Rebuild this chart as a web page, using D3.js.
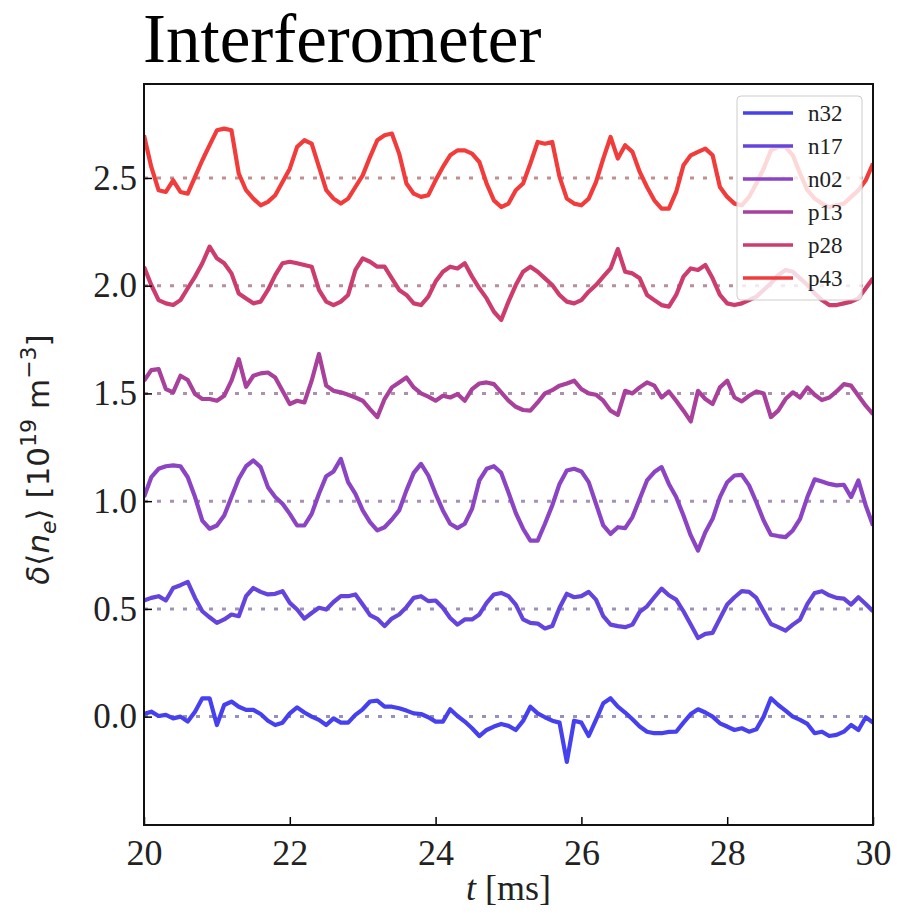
<!DOCTYPE html>
<html>
<head>
<meta charset="utf-8">
<script src="https://cdn.jsdelivr.net/npm/d3@7"></script>
<style>
  html, body { margin: 0; padding: 0; background: #fff; }
  svg { display: block; }
</style>
</head>
<body>
<svg id="chart" width="897" height="920"></svg>
<script>
// Interferometer chords, density fluctuation stacked with a 0.5 offset per channel
const channels = ["n32", "n17", "n02", "p13", "p28", "p43"];
const offsets  = [0.0, 0.5, 1.0, 1.5, 2.0, 2.5];
const colors   = ["#4640ee", "#6444dc", "#8a44c4", "#a8409c", "#cc3c6e", "#f23c3c"];

// sampling: t = 20 ms .. 30 ms every 0.1 ms
const tStart = 20, tStep = 0.1;

// fluctuation of each chord about its own baseline [1e19 m^-3]
const n32 = [
  0.012, 0.023, 0.003, 0.008, -0.008, 0.000, -0.023, 0.023, 0.085, 0.085,
  -0.039, 0.054, 0.070, 0.046, 0.031, 0.031, 0.012, -0.019, -0.039, -0.028,
  0.015, 0.043, 0.019, 0.000, -0.015, -0.039, -0.008, -0.028, -0.028, 0.008,
  0.034, 0.070, 0.074, 0.046, 0.046, 0.039, 0.028, 0.015, 0.012, -0.003,
  -0.023, -0.023, 0.034, 0.003, -0.023, -0.054, -0.090, -0.062, -0.046, -0.034,
  -0.043, -0.062, -0.020, 0.046, 0.015, -0.003, -0.019, -0.028, -0.210, -0.019,
  -0.028, -0.090, -0.015, 0.062, 0.085, 0.046, 0.019, -0.012, -0.046, -0.070,
  -0.077, -0.077, -0.071, -0.070, -0.028, 0.012, 0.034, 0.019, 0.000, -0.031,
  -0.046, -0.062, -0.054, -0.070, -0.059, 0.000, 0.085, 0.054, 0.028, 0.000,
  -0.015, -0.034, -0.077, -0.070, -0.090, -0.085, -0.070, -0.039, -0.062, -0.003,
  -0.028
];
const n17 = [
  0.039, 0.051, 0.059, 0.039, 0.097, 0.110, 0.125, 0.051, -0.011, -0.039,
  -0.065, -0.049, -0.026, -0.034, 0.059, 0.097, 0.079, 0.067, 0.070, 0.082,
  0.028, -0.003, -0.045, -0.019, 0.005, -0.003, 0.032, 0.059, 0.059, 0.067,
  0.020, -0.029, -0.046, -0.080, -0.045, -0.026, 0.008, 0.051, 0.059, 0.036,
  0.039, 0.005, -0.042, -0.073, -0.049, -0.049, -0.026, 0.028, 0.067, 0.074,
  0.059, 0.020, -0.049, -0.065, -0.068, -0.091, -0.080, 0.005, 0.070, 0.054,
  0.059, 0.079, 0.043, -0.034, -0.073, -0.080, -0.085, -0.073, -0.014, 0.012,
  0.054, 0.094, 0.063, 0.043, -0.011, -0.073, -0.135, -0.116, -0.111, -0.045,
  0.020, 0.054, 0.082, 0.079, 0.051, -0.011, -0.070, -0.085, -0.101, -0.073,
  -0.049, 0.023, 0.074, 0.082, 0.063, 0.051, 0.048, 0.020, 0.054, 0.023,
  -0.011
];
const n02 = [
  0.019, 0.111, 0.150, 0.162, 0.166, 0.162, 0.111, 0.019, -0.090, -0.128,
  -0.113, -0.067, 0.019, 0.104, 0.162, 0.189, 0.158, 0.065, 0.019, -0.012,
  -0.059, -0.113, -0.113, -0.059, 0.034, 0.116, 0.138, 0.196, 0.088, 0.034,
  -0.043, -0.097, -0.136, -0.121, -0.085, -0.043, 0.050, 0.131, 0.173, 0.119,
  0.034, -0.043, -0.105, -0.125, -0.105, -0.036, 0.096, 0.150, 0.162, 0.131,
  0.040, -0.055, -0.128, -0.183, -0.183, -0.105, -0.020, 0.080, 0.142, 0.150,
  0.138, 0.088, -0.012, -0.113, -0.152, -0.121, -0.125, -0.074, 0.011, 0.096,
  0.135, 0.158, 0.080, 0.019, -0.067, -0.159, -0.229, -0.144, -0.082, 0.019,
  0.088, 0.119, 0.122, 0.073, -0.005, -0.090, -0.156, -0.162, -0.167, -0.136,
  -0.082, 0.019, 0.101, 0.091, 0.080, 0.073, 0.076, 0.019, 0.096, -0.020,
  -0.113
];
const p13 = [
  0.059, 0.108, 0.113, 0.020, 0.005, 0.082, 0.062, -0.003, -0.026, -0.026,
  -0.034, -0.011, 0.059, 0.159, 0.031, 0.082, 0.093, 0.097, 0.074, 0.012,
  -0.049, -0.034, -0.042, 0.059, 0.183, 0.036, 0.012, 0.005, -0.006, -0.019,
  -0.034, -0.073, -0.110, -0.026, 0.028, 0.051, 0.074, 0.028, 0.000, -0.015,
  -0.034, -0.011, -0.019, -0.003, -0.034, 0.020, 0.046, 0.051, 0.043, 0.005,
  -0.034, -0.062, -0.077, -0.080, -0.042, 0.000, 0.015, 0.036, 0.046, 0.059,
  0.020, 0.000, -0.006, -0.034, -0.080, -0.100, 0.012, 0.000, 0.028, 0.051,
  0.036, -0.019, 0.009, -0.034, -0.080, -0.130, 0.012, -0.026, -0.049, 0.028,
  0.059, -0.019, -0.037, -0.011, 0.009, 0.000, -0.110, -0.080, -0.026, 0.005,
  -0.019, 0.028, -0.006, -0.031, -0.019, 0.009, 0.043, 0.036, -0.011, -0.057,
  -0.096
];
const p28 = [
  0.088, 0.003, -0.067, -0.082, -0.090, -0.067, -0.012, 0.042, 0.104, 0.181,
  0.127, 0.104, 0.057, -0.036, -0.059, -0.082, -0.074, -0.020, 0.049, 0.104,
  0.111, 0.104, 0.096, 0.088, -0.020, -0.074, -0.090, -0.074, -0.043, 0.073,
  0.127, 0.111, 0.088, 0.088, 0.034, -0.020, -0.043, -0.082, -0.090, -0.051,
  0.019, 0.065, 0.088, 0.080, 0.104, 0.042, -0.012, -0.059, -0.121, -0.159,
  -0.074, 0.003, 0.065, 0.088, 0.065, 0.034, 0.003, -0.043, -0.074, -0.082,
  -0.067, -0.028, 0.003, 0.042, 0.080, 0.170, 0.065, 0.057, 0.034, -0.043,
  -0.067, -0.090, -0.097, -0.043, 0.042, 0.080, 0.073, 0.096, 0.034, -0.043,
  -0.082, -0.090, -0.082, -0.067, -0.051, -0.020, 0.011, 0.049, 0.073, 0.065,
  0.034, 0.003, -0.036, -0.067, -0.090, -0.090, -0.082, -0.074, -0.059, -0.012,
  0.034
];
const p43 = [
  0.198, 0.051, -0.057, -0.065, -0.011, -0.065, -0.073, 0.005, 0.082, 0.152,
  0.221, 0.229, 0.221, 0.020, -0.057, -0.096, -0.127, -0.111, -0.080, -0.019,
  0.043, 0.144, 0.175, 0.159, 0.051, -0.057, -0.096, -0.119, -0.096, -0.042,
  0.012, 0.097, 0.175, 0.198, 0.206, 0.113, -0.026, -0.073, -0.088, -0.080,
  -0.011, 0.051, 0.105, 0.128, 0.128, 0.113, 0.074, -0.026, -0.104, -0.135,
  -0.119, -0.057, -0.026, 0.067, 0.167, 0.159, 0.167, 0.005, -0.096, -0.119,
  -0.127, -0.096, -0.019, 0.090, 0.190, 0.090, 0.152, 0.121, 0.028, -0.042,
  -0.104, -0.142, -0.142, -0.065, 0.059, 0.105, 0.121, 0.136, 0.105, -0.042,
  -0.088, -0.119, -0.127, -0.088, -0.026, 0.043, 0.128, 0.144, 0.144, 0.105,
  0.020, -0.057, -0.096, -0.119, -0.135, -0.127, -0.119, -0.088, -0.057, -0.011,
  0.067
];
const signals = [n32, n17, n02, p13, p28, p43];

const xTicks = [20, 22, 24, 26, 28, 30];
const yTicks = [0.0, 0.5, 1.0, 1.5, 2.0, 2.5];
const xDomain = [20, 30];
const yDomain = [-0.503, 2.936];

// ---- layout ----
const plot = { left: 144, right: 873, top: 84, bottom: 825 };
const serif = "'Liberation Serif', 'Times New Roman', serif";
const sans  = "'DejaVu Sans', sans-serif";

const svg = d3.select("#chart");
const x = d3.scaleLinear().domain(xDomain).range([plot.left, plot.right]);
const y = d3.scaleLinear().domain(yDomain).range([plot.bottom, plot.top]);

svg.append("defs").append("clipPath").attr("id", "plotClip")
  .append("rect")
  .attr("x", plot.left).attr("y", plot.top)
  .attr("width", plot.right - plot.left).attr("height", plot.bottom - plot.top);

// title
svg.append("text")
  .attr("x", 143).attr("y", 62)
  .attr("font-family", serif).attr("font-size", 69)
  .attr("fill", "#000")
  .text("Interferometer");

const body = svg.append("g").attr("clip-path", "url(#plotClip)");

// dotted baselines, tinted toward each chord's colour
body.selectAll("line.base").data(offsets).join("line")
  .attr("class", "base")
  .attr("x1", x(xDomain[0])).attr("x2", x(xDomain[1]))
  .attr("y1", d => y(d)).attr("y2", d => y(d))
  .attr("stroke", (d, k) => d3.interpolateRgb(colors[k], "#b0aaae")(0.75))
  .attr("stroke-width", 3)
  .attr("stroke-dasharray", "4,9");

// chord traces
const line = d3.line()
  .x((d, i) => x(tStart + i * tStep))
  .y(d => y(d));

body.selectAll("path.trace").data(signals.map((s, k) => s.map(v => v + offsets[k])))
  .join("path")
  .attr("class", "trace")
  .attr("d", line)
  .attr("fill", "none")
  .attr("stroke", (d, k) => colors[k])
  .attr("stroke-width", 4.2)
  .attr("stroke-linejoin", "round");

// axes, ticks pointing inward
const yAxis = d3.axisLeft(y).tickValues(yTicks).tickSize(-8).tickPadding(7)
  .tickFormat(d3.format(".1f"));
const gy = svg.append("g").attr("transform", `translate(${plot.left},0)`).call(yAxis);
gy.select(".domain").remove();
gy.selectAll("line").attr("stroke", "#000").attr("stroke-width", 1.5);
gy.selectAll("text").attr("font-family", serif).attr("font-size", 35).attr("fill", "#222");

const xAxis = d3.axisBottom(x).tickValues(xTicks).tickSize(-8).tickPadding(14)
  .tickFormat(d3.format("d"));
const gx = svg.append("g").attr("transform", `translate(0,${plot.bottom})`).call(xAxis);
gx.select(".domain").remove();
gx.selectAll("line").attr("stroke", "#000").attr("stroke-width", 1.5);
gx.selectAll("text").attr("font-family", serif).attr("font-size", 36).attr("fill", "#222");

// frame
svg.append("rect")
  .attr("x", plot.left).attr("y", plot.top)
  .attr("width", plot.right - plot.left).attr("height", plot.bottom - plot.top)
  .attr("fill", "none").attr("stroke", "#111").attr("stroke-width", 2);

// x label
const xl = svg.append("text")
  .attr("x", (plot.left + plot.right) / 2).attr("y", 900)
  .attr("text-anchor", "middle")
  .attr("font-family", serif).attr("font-size", 36).attr("fill", "#222");
xl.append("tspan").attr("font-style", "italic").text("t");
xl.append("tspan").text(" [ms]");

// y label
const yl = svg.append("text")
  .attr("transform", `translate(49,${(plot.top + plot.bottom) / 2 + 5}) rotate(-90)`)
  .attr("text-anchor", "middle")
  .attr("font-family", sans).attr("font-size", 31).attr("fill", "#222");
yl.append("tspan").attr("font-style", "italic").text("δ");
yl.append("tspan").text("⟨");
yl.append("tspan").attr("font-style", "italic").text("n");
yl.append("tspan").attr("font-style", "italic").attr("font-size", 22).attr("dy", 7).text("e");
yl.append("tspan").attr("dy", -7).text("⟩ [10");
yl.append("tspan").attr("font-size", 22).attr("dy", -13).text("19");
yl.append("tspan").attr("dy", 13).text(" m");
yl.append("tspan").attr("font-size", 22).attr("dy", -13).text("−3");
yl.append("tspan").attr("dy", 13).text("]");

// legend
const lg = { x: 737, y: 96, w: 125, h: 204, row: 33 };
const legend = svg.append("g");
legend.append("rect")
  .attr("x", lg.x).attr("y", lg.y).attr("width", lg.w).attr("height", lg.h)
  .attr("rx", 4)
  .attr("fill", "#fff").attr("fill-opacity", 0.8)
  .attr("stroke", "#cccccc").attr("stroke-width", 1);
const items = legend.selectAll("g.item").data(channels).join("g")
  .attr("class", "item")
  .attr("transform", (d, i) => `translate(${lg.x},${lg.y + 17 + i * lg.row})`);
items.append("line")
  .attr("x1", 6).attr("x2", 56).attr("y1", 0).attr("y2", 0)
  .attr("stroke", (d, i) => colors[i]).attr("stroke-width", 3.6);
items.append("text")
  .attr("x", 71).attr("y", 8)
  .attr("font-family", serif).attr("font-size", 23).attr("fill", "#222")
  .text(d => d);
</script>
</body>
</html>
